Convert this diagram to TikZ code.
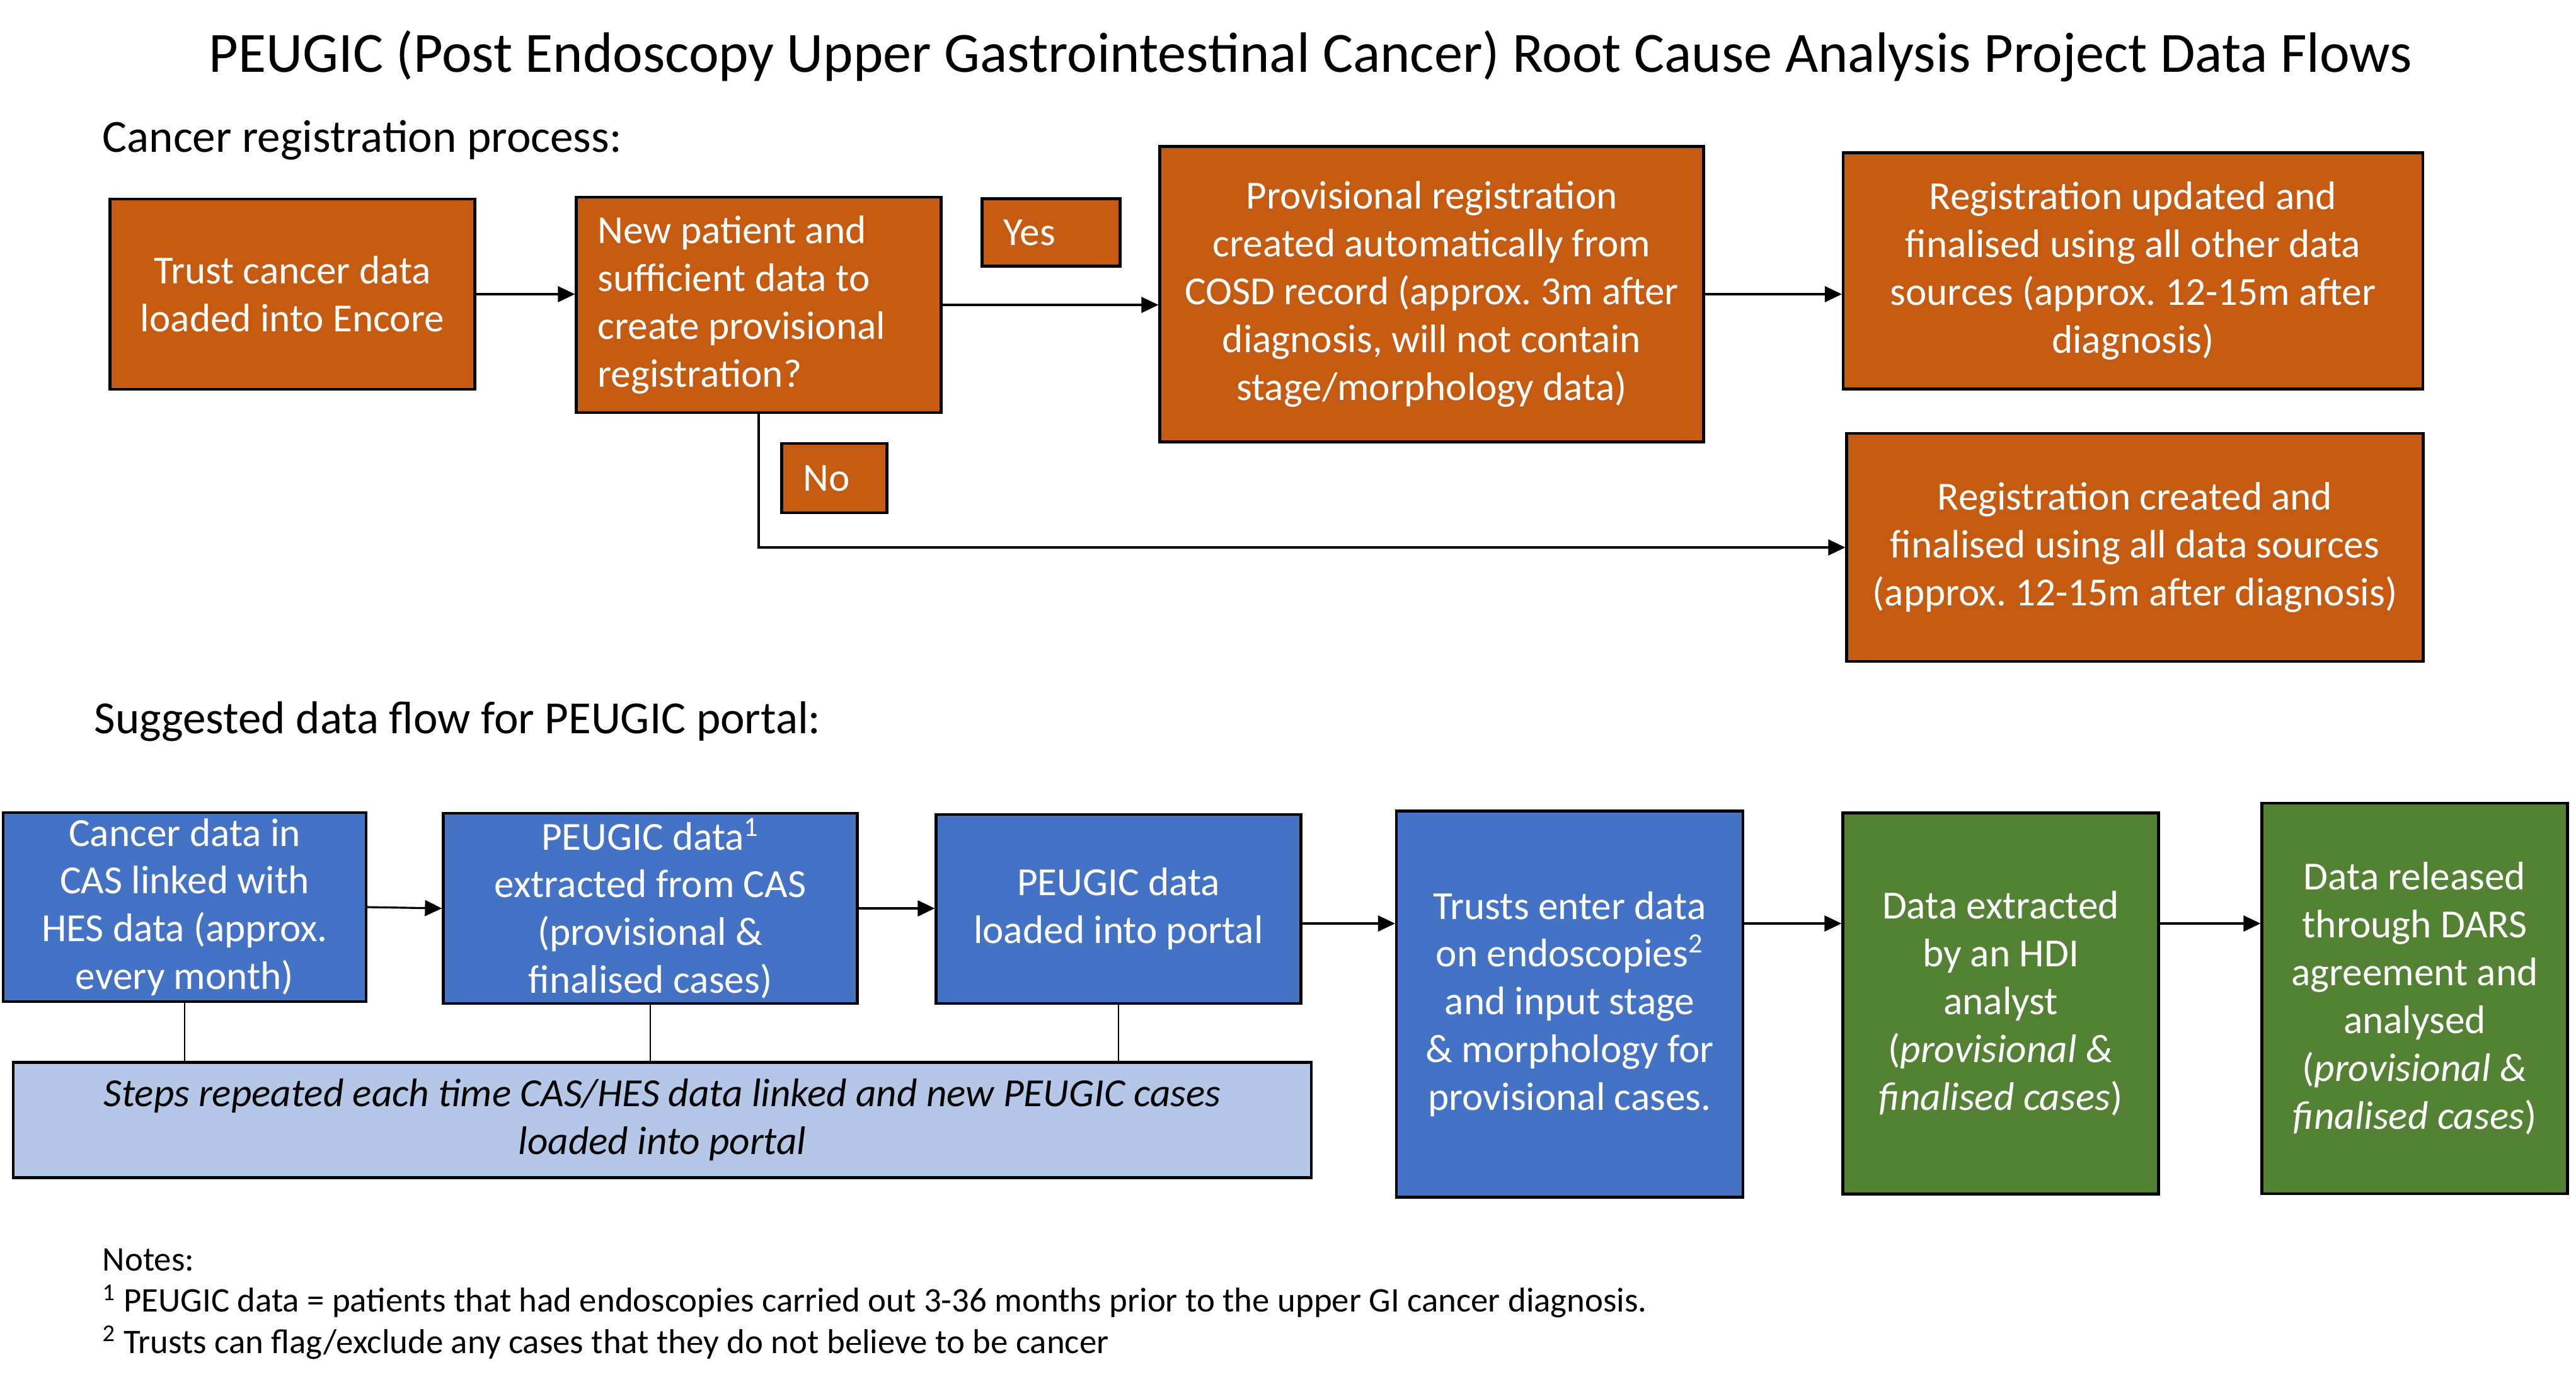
\documentclass[tikz,border=0pt]{standalone}
\usepackage{fontspec}
\setmainfont{Carlito}
\usetikzlibrary{positioning}
\usetikzlibrary{arrows.meta}
\definecolor{regorange}{HTML}{C55A11}
\definecolor{portalblue}{HTML}{4472C4}
\definecolor{hdigreen}{HTML}{548235}
\definecolor{repeatblue}{HTML}{B4C7E7}
\tikzset{box/.style={ % Sets the properties for each process box
    draw=black,
    line width=1.2pt,
    text=white,
    align=center,
    inner sep=0pt,
    font=\fontsize{18}{21.6}\selectfont},
    regbox/.style={box, fill=regorange}, % Cancer registration steps
    portalbox/.style={box, fill=portalblue}, % Portal steps
    hdibox/.style={box, fill=hdigreen}, % Analysis steps
    leftbox/.style={align=flush left, inner xsep=0.34cm}, % Left aligned text in a box
    heading/.style={anchor=west, inner sep=0pt, font=\fontsize{20.8}{25}\selectfont},
    flow/.style={ % Sets the properties for each arrow
    draw,
    ->,>={Triangle[length=0.27cm,width=0.25cm]},
    line width=0.9pt},
    link/.style={draw, line width=0.5pt}}

\begin{document}
\frenchspacing
\begin{tikzpicture}
        \useasboundingbox (0,0) rectangle (40.88,-22.04);

        % Title
        \node[inner sep=0pt, font=\fontsize{25.7}{31}\selectfont] (title) at (20.80,-0.89)
            {PEUGIC (Post Endoscopy Upper Gastrointestinal Cancer) Root Cause Analysis Project Data Flows};

        % Cancer registration process
        \node[heading] (regtitle) at (1.62,-2.22) {Cancer registration process:};

        \node[regbox, minimum width=5.79cm, minimum height=3.02cm] (encore) at (4.64,-4.67)
            {Trust cancer data\\loaded into Encore};
        \node[regbox, leftbox, text width=5.11cm, minimum height=3.42cm] (newpat) at (12.04,-4.84)
            {New patient and\\sufficient data to\\create provisional\\registration?};
        \node[regbox, leftbox, text width=1.51cm, minimum height=1.07cm] (yes) at (16.68,-3.69) {Yes};
        \node[regbox, minimum width=8.63cm, minimum height=4.69cm] (cosd) at (22.72,-4.67)
            {Provisional registration\\created automatically from\\COSD record (approx. 3m after\\diagnosis, will not contain\\stage/morphology data)};
        \node[regbox, minimum width=9.20cm, minimum height=3.75cm] (updated) at (33.85,-4.30)
            {Registration updated and\\finalised using all other data\\sources (approx. 12-15m after\\diagnosis)};
        \node[regbox, leftbox, text width=0.99cm, minimum height=1.10cm] (no) at (13.24,-7.59) {No};
        \node[regbox, minimum width=9.15cm, minimum height=3.62cm] (created) at (33.88,-8.69)
            {Registration created and\\finalised using all data sources\\(approx. 12-15m after diagnosis)};

        % Registration arrows
        \draw[flow] (encore.east) -- (encore.east -| newpat.west);
        \draw[flow] (newpat.east) -- (newpat.east -| cosd.west);
        \draw[flow] (cosd.east) -- (cosd.east -| updated.west);
        \draw[flow] (newpat.south) |- (created.west);

        % Suggested data flow for the portal
        \node[heading] (portaltitle) at (1.49,-11.45) {Suggested data flow for PEUGIC portal:};

        \node[portalbox, minimum width=5.76cm, minimum height=3.00cm] (cas) at (2.93,-14.40)
            {Cancer data in\\CAS linked with\\HES data (approx.\\every month)};
        \node[portalbox, minimum width=6.57cm, minimum height=3.02cm] (extract) at (10.32,-14.42)
            {PEUGIC data\textsuperscript{1}\\extracted from CAS\\(provisional \&\\finalised cases)};
        \node[portalbox, minimum width=5.79cm, minimum height=3.00cm] (portal) at (17.75,-14.43)
            {PEUGIC data\\loaded into portal};
        \node[portalbox, minimum width=5.50cm, minimum height=6.13cm] (trusts) at (24.91,-15.94)
            {Trusts enter data\\on endoscopies\textsuperscript{2}\\and input stage\\\& morphology for\\provisional cases.};
        \node[hdibox, minimum width=5.01cm, minimum height=6.05cm] (hdi) at (31.75,-15.93)
            {Data extracted\\by an HDI\\analyst\\(\textit{provisional \&}\\\textit{finalised cases})};
        \node[hdibox, minimum width=4.85cm, minimum height=6.20cm] (dars) at (38.32,-15.85)
            {Data released\\through DARS\\agreement and\\analysed\\(\textit{provisional \&}\\\textit{finalised cases})};
        \node[box, fill=repeatblue, text=black, font=\fontsize{18}{21.6}\selectfont\itshape,
            minimum width=20.60cm, minimum height=1.83cm] (repeat) at (10.51,-17.78)
            {Steps repeated each time CAS/HES data linked and new PEUGIC cases\\loaded into portal};

        % Portal arrows
        \coordinate (flowline) at (0,-14.66);
        \draw[flow] (cas.east) -- (extract.west);
        \draw[flow] (extract.east) -- (extract.east -| portal.west);
        \draw[flow] (portal.east |- flowline) -- (trusts.west |- flowline);
        \draw[flow] (trusts.east |- flowline) -- (hdi.west |- flowline);
        \draw[flow] (hdi.east |- flowline) -- (dars.west |- flowline);

        % Repeated steps
        \draw[link] (cas.south) -- (cas.south |- repeat.north);
        \draw[link] (extract.south) -- (extract.south |- repeat.north);
        \draw[link] (portal.south) -- (portal.south |- repeat.north);

        % Notes
        \node[anchor=west, inner sep=0pt, align=left, font=\fontsize{15.6}{18.6}\selectfont] (notes) at (1.62,-20.70)
            {Notes:\\\textsuperscript{1} PEUGIC data = patients that had endoscopies carried out 3-36 months prior to the upper GI cancer diagnosis.\\\textsuperscript{2} Trusts can flag/exclude any cases that they do not believe to be cancer};

    \end{tikzpicture}
\end{document}
